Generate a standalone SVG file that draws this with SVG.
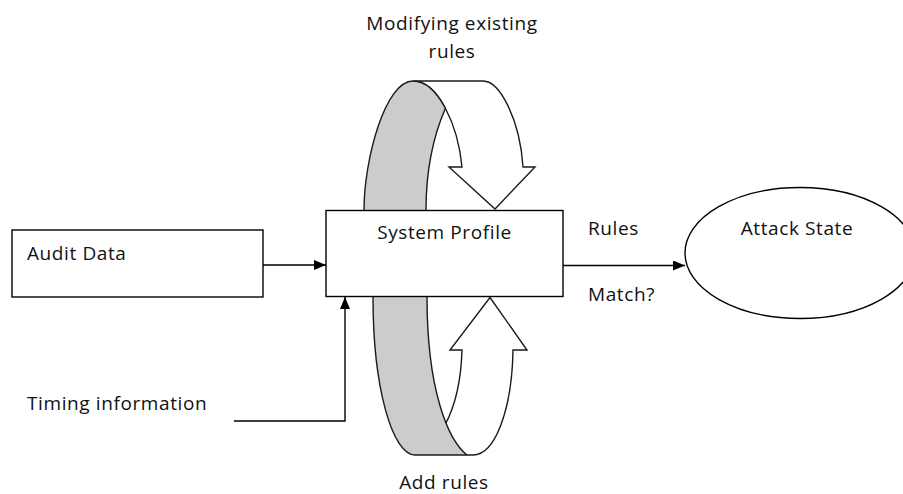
<svg xmlns="http://www.w3.org/2000/svg" width="903" height="494" viewBox="0 0 903 494">
  <style>
    .box { fill: #ffffff; stroke: #000000; stroke-width: 1.4; }
    .lbl { font-family: "Open Sans", "Liberation Sans", sans-serif; font-size: 19px; letter-spacing: 0.6px; fill: #111111; }
    .wire { fill: none; stroke: #000000; stroke-width: 1.4; }
    .ribbon { fill: #cccccc; stroke: #1a1a1a; stroke-width: 1.4; stroke-linejoin: round; }
    .loop { fill: #ffffff; stroke: #1a1a1a; stroke-width: 1.4; stroke-linejoin: miter; }
  </style>
  <defs>
    <marker id="head" markerUnits="userSpaceOnUse" markerWidth="12" markerHeight="10" refX="12" refY="5" orient="auto">
      <path d="M0,0 L12,5 L0,10 Z" fill="#000000"/>
    </marker>
  </defs>

  <!-- upper loop: "Modifying existing rules" -->
  <g id="loop-modify">
    <path class="loop" d="M413,81 L483,81 C500,81 520,120 523,167 L535,167 L495,209 L449,167 L462,167 C458,125 438,81 413,81 Z"/>
    <path class="ribbon" d="M364,210 C364,160 385,81 413,81 C425.5,81 436.75,92 445.4,108.25 C436,130 426,165 426,210"/>
    <text class="lbl" x="452" y="30" text-anchor="middle">Modifying existing</text>
    <text class="lbl" x="452" y="58" text-anchor="middle">rules</text>
  </g>

  <!-- lower loop: "Add rules" -->
  <g id="loop-add">
    <path class="loop" fill="none" d="M445,425 C453,410 461,385 462,350 L450,350 L490,297.5 L527,350 L513,350 C512,410 495,455 473,455 L467,455"/>
    <path class="ribbon" d="M373,297 C373,390 393,455 415,455 L467,455 C448,440 427,390 427,297"/>
    <text class="lbl" x="444" y="489" text-anchor="middle">Add rules</text>
  </g>

  <!-- connectors -->
  <g id="connectors">
    <line class="wire" x1="263" y1="265" x2="326" y2="265" marker-end="url(#head)"/>
    <polyline class="wire" points="234,421 345,421 345,297" marker-end="url(#head)"/>
    <line class="wire" x1="563" y1="265.5" x2="685" y2="265.5" marker-end="url(#head)"/>
    <text class="lbl" x="588" y="235">Rules</text>
    <text class="lbl" x="588" y="301">Match?</text>
  </g>

  <g id="audit-data">
    <rect class="box" x="12" y="230" width="251" height="67"/>
    <text class="lbl" x="27" y="260">Audit Data</text>
  </g>

  <g id="timing-information">
    <text class="lbl" x="27" y="410">Timing information</text>
  </g>

  <g id="system-profile">
    <rect class="box" x="326" y="210.5" width="237" height="86"/>
    <text class="lbl" x="444.5" y="239" text-anchor="middle">System Profile</text>
  </g>

  <g id="attack-state">
    <ellipse class="box" cx="800" cy="253" rx="115" ry="65.5"/>
    <text class="lbl" x="797" y="235" text-anchor="middle">Attack State</text>
  </g>
</svg>
